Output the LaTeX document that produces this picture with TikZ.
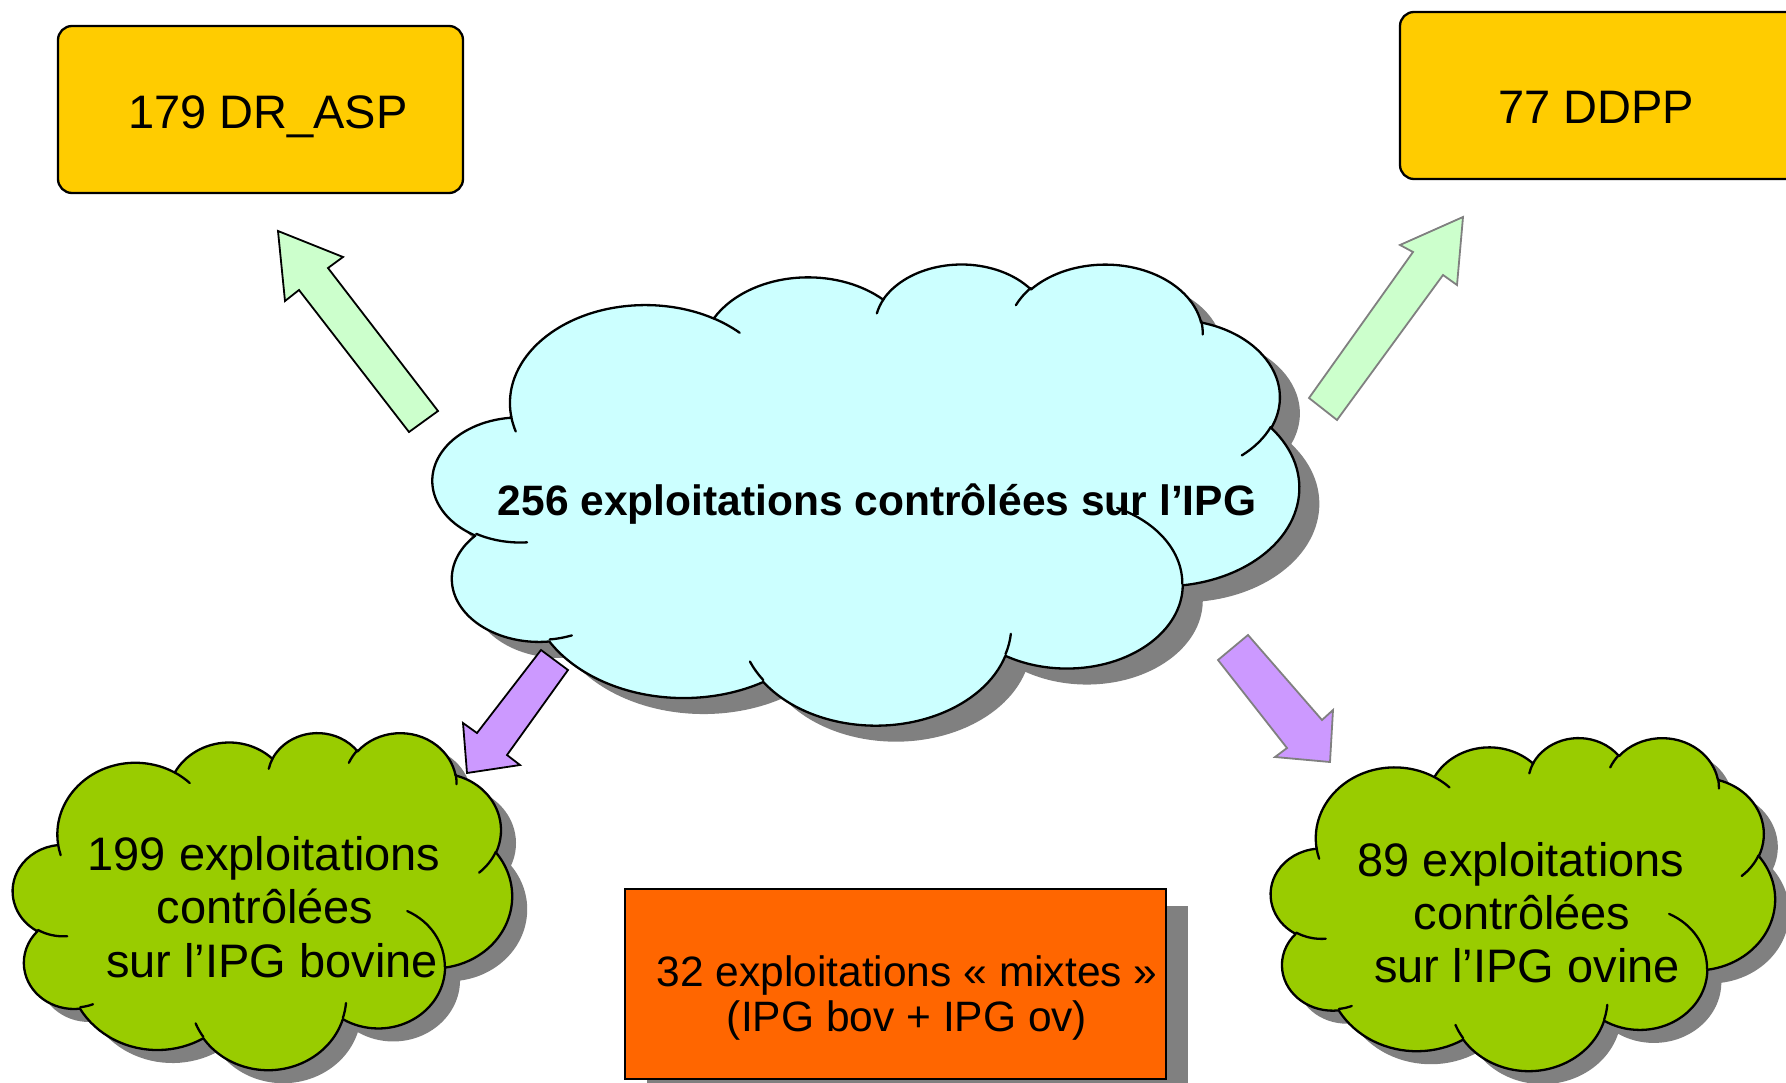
\documentclass[tikz,border=0pt]{standalone}
\usepackage{tikz}
\usepackage{fontspec}
\setmainfont{Liberation Sans}

\definecolor{boxyellow}{HTML}{FFCC00}
\definecolor{arrowgreen}{HTML}{CCFFCC}
\definecolor{cloudcyan}{HTML}{CCFFFF}
\definecolor{arrowpurple}{HTML}{CC99FF}
\definecolor{cloudgreen}{HTML}{99CC00}
\definecolor{boxorange}{HTML}{FF6600}
\definecolor{shadowgray}{HTML}{808080}

% convert an Office arcTo (visual angles) into a TikZ arc style
\newcommand\ooprep[5]{%
  \pgfmathsetmacro\ooA{#4}%
  \pgfmathsetmacro\ooB{#4+#5}%
  \pgfmathsetmacro\ooTa{atan2(#2*sin(\ooA),#3*cos(\ooA))}%
  \pgfmathsetmacro\ooTb{atan2(#2*sin(\ooB),#3*cos(\ooB))}%
  \pgfmathsetmacro\ooD{\ooTb-\ooTa}%
  \pgfmathsetmacro\ooD{\ooD<0 ? \ooD+360 : \ooD}%
  \edef\ootmp{\noexpand\tikzset{#1/.style={start angle=\ooTa, delta angle=\ooD, x radius=#2pt, y radius=#3pt}}}%
  \ootmp
}
\ooprep{ooaA}{675.3}{919.0}{-190.48748}{123.78053}
\ooprep{ooaB}{533.3}{726.7}{-144.10238}{89.94523}
\ooprep{ooaC}{436.5}{594.5}{-145.80792}{99.72302}
\ooprep{ooaD}{485.7}{659.5}{-130.98607}{117.24173}
\ooprep{ooaE}{533.3}{727.3}{-78.70888}{109.02692}
\ooprep{ooaF}{677.5}{922.0}{-46.26725}{130.269}
\ooprep{ooaG}{578.5}{786.7}{0.62502}{114.03333}
\ooprep{ooaH}{675.2}{921.5}{22.4516}{115.17255}
\ooprep{ooaI}{772.0}{1054.3}{66.24263}{75.71102}
\ooprep{ooaJ}{436.0}{591.8}{-274.94208}{146.73557}
\ooprep{ooaK}{434.5}{594.5}{-246.8285}{152.51885}
\ooprep{ooiA}{434.5}{594.5}{86.742}{26.4295}
\ooprep{ooiB}{436.0}{591.8}{73.61047}{11.44747}
\ooprep{ooiC}{675.2}{921.5}{137.62415}{14.0811}
\ooprep{ooiD}{675.2}{921.5}{6.45327}{15.99835}
\ooprep{ooiE}{578.5}{786.7}{-70.29235}{70.91737}
\ooprep{ooiF}{533.3}{727.3}{30.31803}{27.7515}
\ooprep{ooiG}{485.7}{659.5}{-13.74433}{14.8589}
\ooprep{ooiH}{485.7}{659.5}{-149.18145}{18.19537}
\ooprep{ooiI}{436.5}{594.5}{-163.49427}{17.68635}
\ooprep{ooiJ}{675.3}{919.0}{-66.70695}{12.31935}
\ooprep{ooiK}{675.3}{919.0}{157.65435}{11.86183}

\newcommand\ooOutline{(390pt,1437pt) arc[ooaA] arc[ooaB] arc[ooaC] arc[ooaD] arc[ooaE] arc[ooaF] arc[ooaG] arc[ooaH] arc[ooaI] arc[ooaJ] arc[ooaK] -- cycle}
\newcommand\ooInner{(469.3pt,2617.7pt) arc[ooiA] (692.8pt,3489.9pt) arc[ooiB] (1647.8pt,3909.0pt) arc[ooiC] (2882.7pt,3475.1pt) arc[ooiD] (3412.9pt,2295.4pt) arc[ooiE] (4179.8pt,1535.4pt) arc[ooiF] (3832.4pt,542.6pt) arc[ooiG] (2907.8pt,395.2pt) arc[ooiH] (2214.1pt,472.0pt) arc[ooiI] (1400.0pt,519.2pt) arc[ooiJ] (412.7pt,1578.9pt) arc[ooiK]}

% #1 x0, #2 y0, #3 width, #4 height, #5 dx, #6 dy
\newcommand\oocloudshadow[6]{%
  \begin{scope}[shift={(#1+#5,#2+#6)}, xscale=#3/4320, yscale=-#4/4320]
    \fill[shadowgray] \ooOutline;
  \end{scope}}
% #1 x0, #2 y0, #3 width, #4 height, #5 fill
\newcommand\oocloud[5]{%
  \begin{scope}[shift={(#1,#2)}, xscale=#3/4320, yscale=-#4/4320]
    \filldraw[fill=#5, draw=black, line width=2.3pt, line join=round] \ooOutline;
    \draw[line width=2.3pt, line cap=round] \ooInner;
  \end{scope}}

\tikzset{
  ybox/.style={draw=black, fill=boxyellow, line width=2.3pt, rounded corners=14pt},
  obox/.style={draw=black, fill=boxorange, line width=2.3pt},
  blockarrow/.style={line width=1.8pt, line join=miter},
  bigtxt/.style={font=\fontsize{47}{54}\selectfont, anchor=base},
  midtxt/.style={font=\fontsize{42.5}{46}\selectfont, anchor=base},
  boldtxt/.style={font=\fontsize{42.5}{46}\selectfont\bfseries, anchor=base},
}

\begin{document}
\begin{tikzpicture}[x=1pt, y=-1pt, every node/.style={inner sep=0pt, outer sep=0pt}]
\useasboundingbox (0,0) rectangle (1786,1082);
\fill[white] (0,0) rectangle (1786,1082);
\begin{scope}
\clip (0,0) rectangle (1786,1082);

% shadows
\oocloudshadow{433}{263}{866}{461}{20}{16}
\oocloudshadow{13}{732}{499}{337}{15}{13}
\oocloudshadow{1271}{737}{504}{333}{14}{13}
\fill[shadowgray] (647,906) rectangle (1188,1096);

% clouds
\oocloud{433}{263}{866}{461}{cloudcyan}
\oocloud{13}{732}{499}{337}{cloudgreen}
\oocloud{1271}{737}{504}{333}{cloudgreen}

% boxes
\node[ybox, minimum width=405pt, minimum height=167pt] (aspbox) at (260.5,109.5) {};
\node[ybox, minimum width=400pt, minimum height=167pt] (ddppbox) at (1600,95.5) {};
\node[obox, minimum width=541pt, minimum height=190pt] (mixbox) at (895.5,984) {};

% block arrows
\filldraw[blockarrow, fill=arrowgreen, draw=black]
  (409,432) -- (299,290) -- (285,301) -- (278,231) -- (343,257) -- (328,268) -- (438,411) -- cycle;
\filldraw[blockarrow, fill=arrowgreen, draw=black!50]
  (1309,398) -- (1413,252) -- (1400,245) -- (1463,217) -- (1457,285) -- (1443,275) -- (1337,420) -- cycle;
\filldraw[blockarrow, fill=arrowpurple, draw=black]
  (541,650) -- (477,733) -- (463,723) -- (467,773) -- (520,765) -- (507,755) -- (568,670) -- cycle;
\filldraw[blockarrow, fill=arrowpurple, draw=black!50]
  (1218,660) -- (1287,748) -- (1275,757) -- (1330,762) -- (1333,710) -- (1322,720) -- (1248,635) -- cycle;

% texts
\node[bigtxt] (asp) at (268,128) {179 DR\_ASP};
\node[bigtxt] (ddpp) at (1596,123) {77 DDPP};
\node[boldtxt] (centre) at (877,515) {256 exploitations contrôlées sur l’IPG};

\node[bigtxt] (bovA) at (264,870) {199 exploitations};
\node[bigtxt] (bovB) at (265,923) {contrôlées};
\node[bigtxt] (bovC) at (272,977) {sur l’IPG bovine};

\node[bigtxt] (ovA) at (1521,876) {89 exploitations};
\node[bigtxt] (ovB) at (1522,929) {contrôlées};
\node[bigtxt] (ovC) at (1527,982) {sur l’IPG ovine};

\node[midtxt] (mixA) at (907,986) {32 exploitations « mixtes »};
\node[midtxt] (mixB) at (907,1031) {(IPG bov + IPG ov)};
\end{scope}
\end{tikzpicture}
\end{document}
